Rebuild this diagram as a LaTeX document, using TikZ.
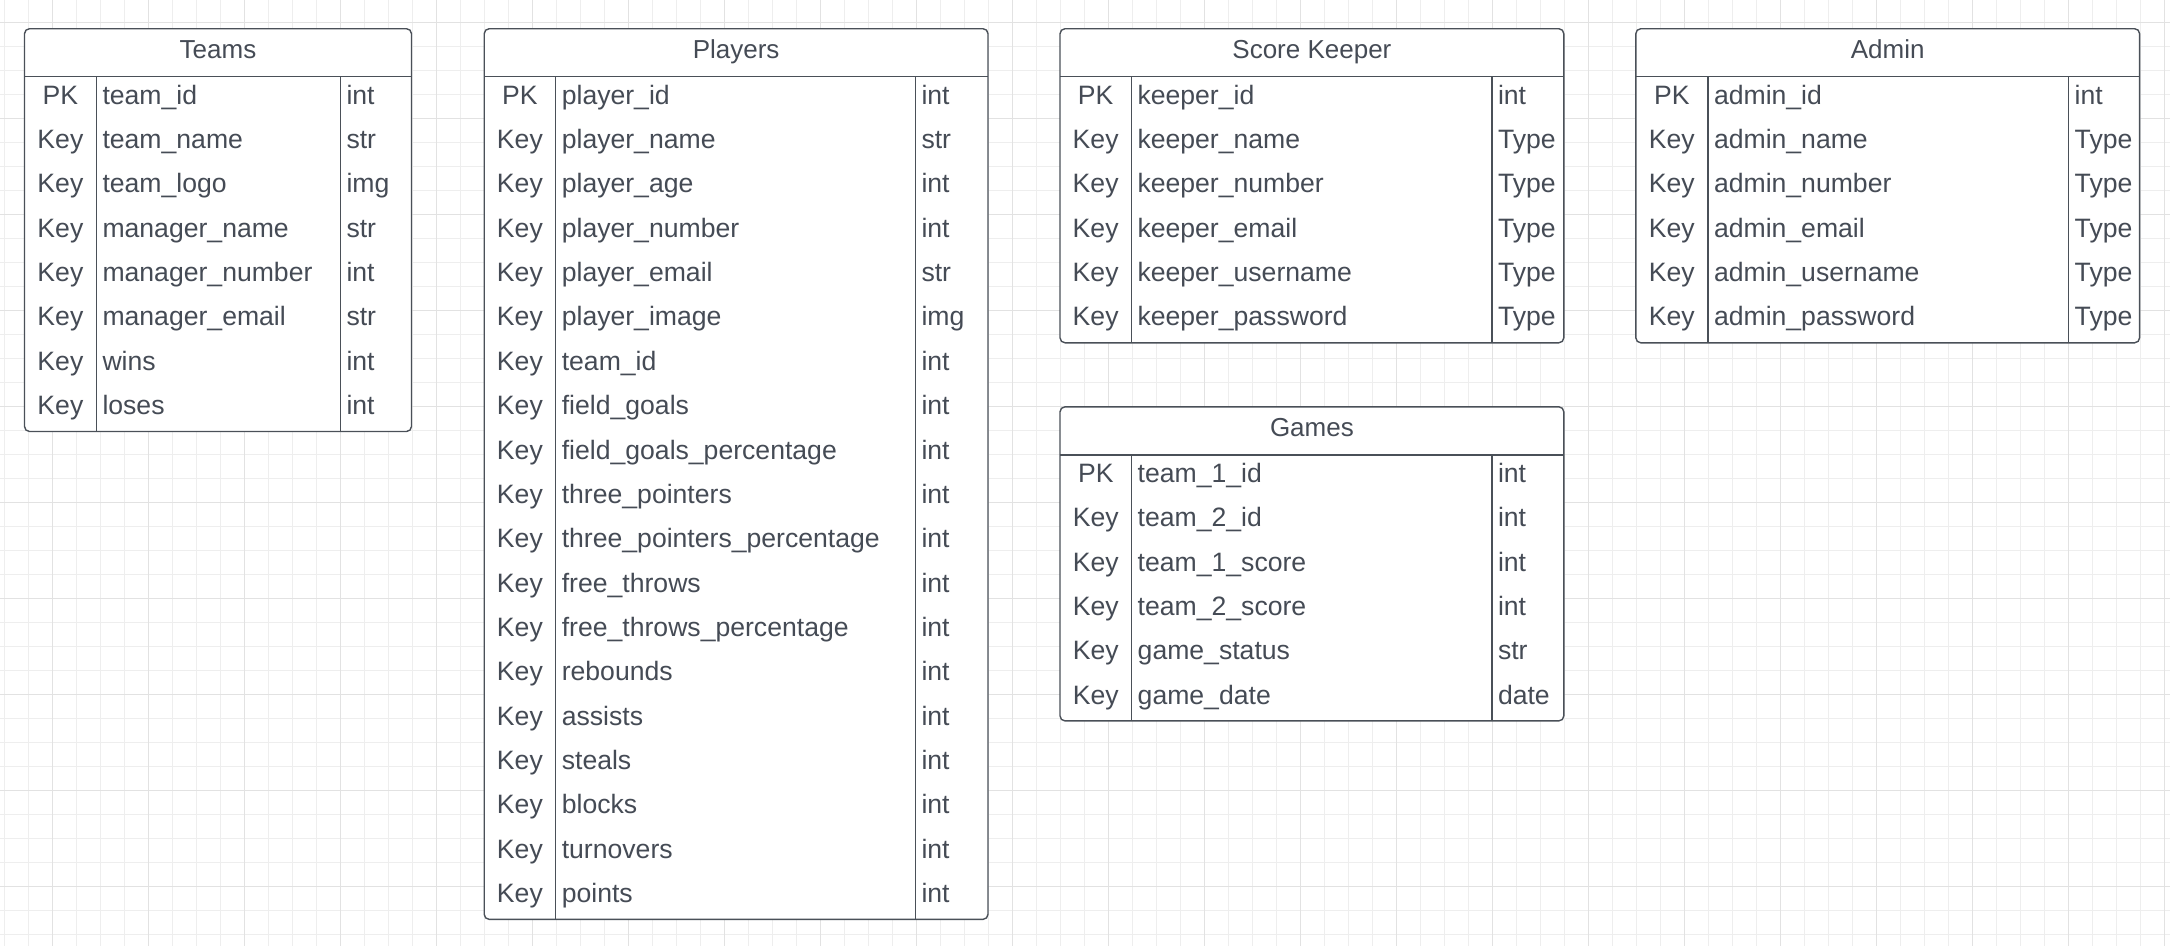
\documentclass[tikz,border=0pt]{standalone}
\usepackage{fontspec}
\setmainfont{Liberation Sans}
\definecolor{txtc}{HTML}{454B55}
\definecolor{linec}{HTML}{4A5058}
\definecolor{gridminor}{HTML}{EEEEEE}
\definecolor{gridmajor}{HTML}{E2E2E2}
\tikzset{
  tbl/.style={draw=linec, line width=1.4pt},
  tblbox/.style={tbl, fill=white, rounded corners=5pt},
  cell/.style={inner sep=0pt, text=txtc, font=\fontsize{26.6}{30}\selectfont},
  ttl/.style={inner sep=0pt, text=txtc, font=\fontsize{26}{30}\selectfont, anchor=base},
  gminor/.style={draw=gridminor, line width=1pt},
  gmajor/.style={draw=gridmajor, line width=1.2pt},
}
% #1 name, #2 left, #3 top, #4 div1, #5 div2, #6 right, #7 nrows, #8 title, #9 rows
\newcommand\ertable[9]{%
  \pgfmathsetmacro\tbot{#3+48+#7*44.35}%
  \pgfmathsetmacro\thl{#3+48}%
  \draw[tblbox] (#2,#3) rectangle (#6,\tbot);
  \draw[tbl] (#2,\thl) -- (#6,\thl);
  \draw[tbl] (#4,\thl) -- (#4,\tbot);
  \draw[tbl] (#5,\thl) -- (#5,\tbot);
  \node[ttl] (#1-title) at ({(#2+#6)/2},{#3+29.8}) {#8};
  \foreach \k/\f/\t [count=\i] in {#9} {
    \pgfmathsetmacro\yb{#3+48+(\i-1)*44.35+27.5}
    \node[cell, anchor=base] (#1-k\i) at ({(#2+#4)/2},\yb) {\k};
    \node[cell, anchor=base west] (#1-f\i) at ({#4+6},\yb) {\f};
    \node[cell, anchor=base west] (#1-t\i) at ({#5+6},\yb) {\t};
  }
}
\begin{document}
\begin{tikzpicture}[x=1pt,y=-1pt]
\useasboundingbox (0,0) rectangle (2170,946);
\fill[white] (0,0) rectangle (2170,946);
\begin{scope}
\clip (0,0) rectangle (2170,946);
\foreach \i in {0,...,91} { \draw[gminor] ({4.3+24*\i},0) -- ({4.3+24*\i},946); }
\foreach \i in {0,...,40} { \draw[gminor] (0,{-1.3+24*\i}) -- (2170,{-1.3+24*\i}); }
\foreach \i in {0,...,23} { \draw[gmajor] ({52.3+96*\i},0) -- ({52.3+96*\i},946); }
\foreach \i in {0,...,10} { \draw[gmajor] (0,{22.7+96*\i}) -- (2170,{22.7+96*\i}); }
\end{scope}

\ertable{teams}{24.5}{28.7}{96.3}{340.3}{411.5}{8}{Teams}{%
PK/team\_id/int, Key/team\_name/str, Key/team\_logo/img, Key/manager\_name/str,
Key/manager\_number/int, Key/manager\_email/str, Key/wins/int, Key/loses/int}

\ertable{players}{484.2}{28.7}{555.6}{915.3}{988}{19}{Players}{%
PK/player\_id/int, Key/player\_name/str, Key/player\_age/int, Key/player\_number/int,
Key/player\_email/str, Key/player\_image/img, Key/team\_id/int, Key/field\_goals/int,
Key/field\_goals\_percentage/int, Key/three\_pointers/int, Key/three\_pointers\_percentage/int,
Key/free\_throws/int, Key/free\_throws\_percentage/int, Key/rebounds/int, Key/assists/int,
Key/steals/int, Key/blocks/int, Key/turnovers/int, Key/points/int}

\ertable{keeper}{1060}{28.7}{1131.3}{1491.8}{1563.8}{6}{Score Keeper}{%
PK/keeper\_id/int, Key/keeper\_name/Type, Key/keeper\_number/Type, Key/keeper\_email/Type,
Key/keeper\_username/Type, Key/keeper\_password/Type}

\ertable{admin}{1635.8}{28.7}{1707.8}{2068.5}{2139.6}{6}{Admin}{%
PK/admin\_id/int, Key/admin\_name/Type, Key/admin\_number/Type, Key/admin\_email/Type,
Key/admin\_username/Type, Key/admin\_password/Type}

\ertable{games}{1060}{406.8}{1131.5}{1491.8}{1563.8}{6}{Games}{%
PK/team\_1\_id/int, Key/team\_2\_id/int, Key/team\_1\_score/int, Key/team\_2\_score/int,
Key/game\_status/str, Key/game\_date/date}
\end{tikzpicture}
\end{document}
